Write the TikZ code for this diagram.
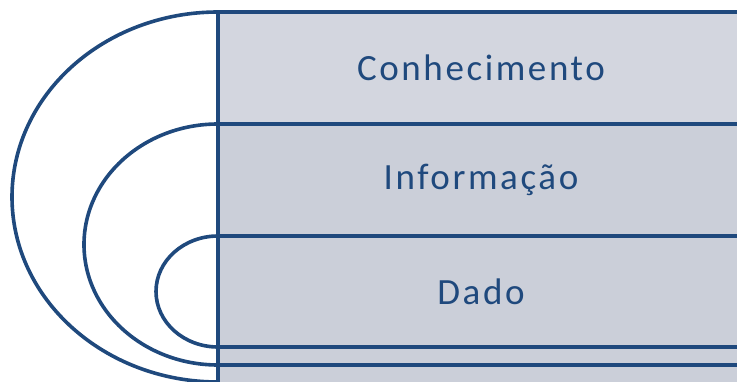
\documentclass[tikz,border=0pt]{standalone}
\usepackage{fontspec}
\setmainfont{Carlito}[LetterSpace=7]
\usetikzlibrary{positioning}
\definecolor{lineblue}{HTML}{1F497D}
\definecolor{rowgray}{HTML}{CBCFD9}
\tikzset{
  row/.style={draw=lineblue,line width=3.6pt,fill=rowgray,text=lineblue,
    minimum width=526pt,inner sep=0pt,outer sep=0pt,
    font=\fontsize{37}{40}\selectfont},
  ring/.style={draw=lineblue,line width=3.6pt}
}
\begin{document}
\begin{tikzpicture}[x=1pt,y=1pt]
\useasboundingbox (0,0) rectangle (737,381);
\clip (0,0) rectangle (737,381);

\node[row,anchor=north west,minimum height=112pt,fill=rowgray!85!white] (know) at (218,369) {Conhecimento};
\node[row,minimum height=112pt,below=0pt of know] (info) {Informação};
\node[row,minimum height=111pt,below=0pt of info] (dado) {Dado};
\node[row,minimum height=18pt,below=0pt of dado] (gap) {};
\node[row,minimum height=30pt,below=0pt of gap] (base) {};

\draw[ring] (dado.north west) arc[start angle=90,end angle=270,x radius=62,y radius=55.5];
\draw[ring] (info.north west) arc[start angle=90,end angle=270,x radius=134,y radius=120.5];
\draw[ring] (know.north west) arc[start angle=90,end angle=270,x radius=206,y radius=185];
\end{tikzpicture}
\end{document}
